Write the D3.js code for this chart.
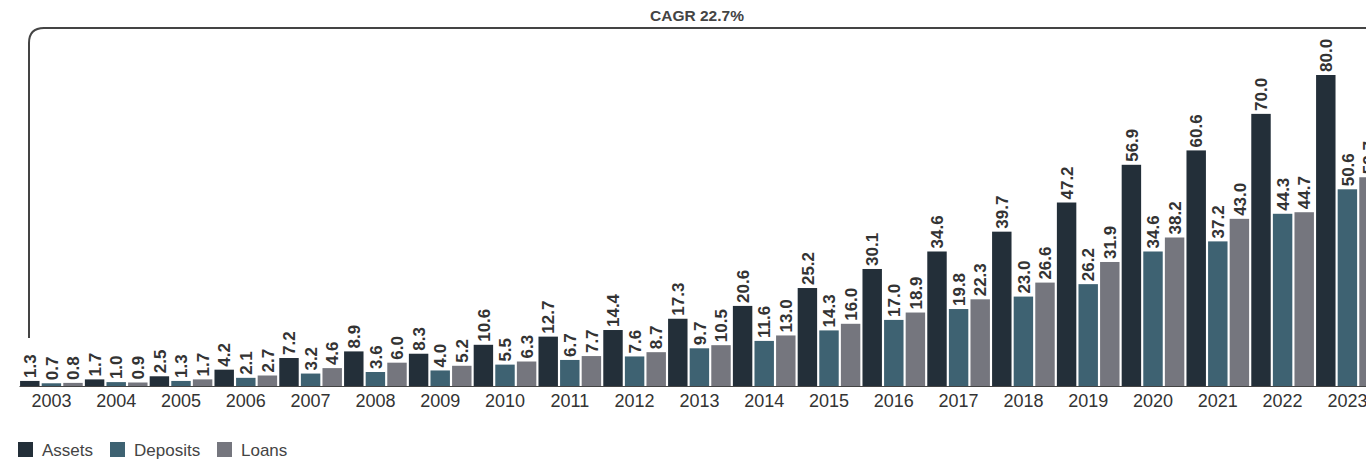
<!DOCTYPE html>
<html>
<head>
<meta charset="utf-8">
<script src="https://cdn.jsdelivr.net/npm/d3@7"></script>
<style>
  body { margin: 0; background: #fff; overflow: hidden; }
  svg { display: block; font-family: "Liberation Sans", Arial, sans-serif; }
</style>
</head>
<body>
<script>
// data (billions)
var years = ["2003","2004","2005","2006","2007","2008","2009","2010","2011","2012","2013",
             "2014","2015","2016","2017","2018","2019","2020","2021","2022","2023"];
var assets   = [1.3,1.7,2.5,4.2,7.2,8.9,8.3,10.6,12.7,14.4,17.3,20.6,25.2,30.1,34.6,39.7,47.2,56.9,60.6,70.0,80.0];
var deposits = [0.7,1.0,1.3,2.1,3.2,3.6,4.0,5.5,6.7,7.6,9.7,11.6,14.3,17.0,19.8,23.0,26.2,34.6,37.2,44.3,50.6];
var loans    = [0.8,0.9,1.7,2.7,4.6,6.0,5.2,6.3,7.7,8.7,10.5,13.0,16.0,18.9,22.3,26.6,31.9,38.2,43.0,44.7,53.7];
var seriesNames = ["Assets","Deposits","Loans"];
var cagrLabel = "CAGR 22.7%";

var colors = { Assets: "#232f39", Deposits: "#3e6272", Loans: "#75767e" };
var seriesData = { Assets: assets, Deposits: deposits, Loans: loans };

var width = 1366, height = 463;
var baseY = 386;

var svg = d3.select("body").append("svg")
    .attr("width", width)
    .attr("height", height);

var x0 = d3.scaleBand()
    .domain(years)
    .range([19, 19 + years.length * 64.8])
    .padding(0);

var x1 = d3.scaleBand()
    .domain(seriesNames)
    .range([0, x0.bandwidth()])
    .paddingInner(0.1)
    .paddingOuter(0.05);

var y = d3.scaleLinear()
    .domain([0, 80])
    .range([baseY, 75]);

var rows = years.map(function(yr, i) {
  return { year: yr, values: seriesNames.map(function(s) { return { key: s, value: seriesData[s][i] }; }) };
});

var groups = svg.selectAll("g.year")
    .data(rows)
  .enter().append("g")
    .attr("class", "year")
    .attr("transform", function(d) { return "translate(" + x0(d.year) + ",0)"; });

groups.selectAll("rect")
    .data(function(d) { return d.values; })
  .enter().append("rect")
    .attr("x", function(d) { return x1(d.key); })
    .attr("y", function(d) { return y(d.value); })
    .attr("width", x1.bandwidth())
    .attr("height", function(d) { return baseY - y(d.value); })
    .attr("fill", function(d) { return colors[d.key]; });

groups.selectAll("text.val")
    .data(function(d) { return d.values; })
  .enter().append("text")
    .attr("class", "val")
    .attr("transform", function(d) {
      return "translate(" + (x1(d.key) + x1.bandwidth() / 2) + "," + (y(d.value) - 3) + ") rotate(-90)";
    })
    .attr("dy", "0.36em")
    .attr("font-size", 17)
    .attr("font-weight", "bold")
    .attr("fill", "#333")
    .text(function(d) { return d.value.toFixed(1); });

// x axis
var xAxis = svg.append("g")
    .attr("transform", "translate(0," + baseY + ")")
    .call(d3.axisBottom(x0).tickSize(0).tickPadding(8));
xAxis.select(".domain").attr("stroke", "#444").attr("stroke-width", 1);
xAxis.selectAll("text")
    .attr("font-size", 18)
    .attr("font-family", "Liberation Sans, Arial, sans-serif")
    .attr("fill", "#333");

// CAGR bracket
var r = 15;
svg.append("path")
    .attr("d", "M29,338 L29," + (28 + r) + " Q29,28 " + (29 + r) + ",28 L" + width + ",28")
    .attr("fill", "none")
    .attr("stroke", "#444")
    .attr("stroke-width", 2);

svg.append("text")
    .attr("x", 697)
    .attr("y", 21)
    .attr("text-anchor", "middle")
    .attr("font-size", 15.5)
    .attr("font-weight", "bold")
    .attr("fill", "#444")
    .text(cagrLabel);

// legend
var legendX = [18, 110, 217];
var legend = svg.selectAll("g.legend")
    .data(seriesNames)
  .enter().append("g")
    .attr("class", "legend")
    .attr("transform", function(d, i) { return "translate(" + legendX[i] + ",442)"; });

legend.append("rect")
    .attr("width", 15)
    .attr("height", 15)
    .attr("fill", function(d) { return colors[d]; });

legend.append("text")
    .attr("x", 24)
    .attr("y", 14)
    .attr("font-size", 17)
    .attr("fill", "#444")
    .text(function(d) { return d; });
</script>
</body>
</html>
